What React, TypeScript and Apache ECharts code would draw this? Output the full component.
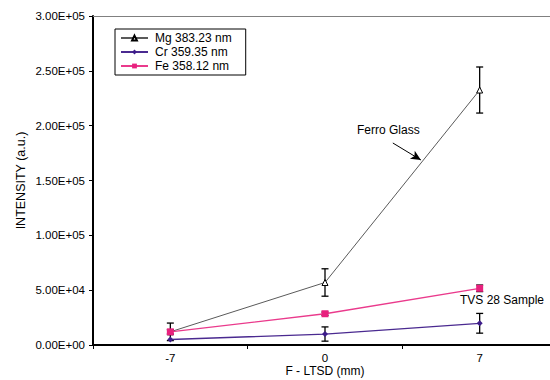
import React, { useEffect, useRef } from "react";
import * as echarts from "echarts";

const categories = ["-7", "0", "7"];
const xValues = [-7, 0, 7];
const mgValues = [12000, 57000, 232500];
const mgErrors = [8000, 12500, 21000];
const crValues = [5000, 10000, 19800];
const crErrors = [0, 6500, 9000];
const feValues = [12000, 28500, 51700];
const feErrors = [2000, 1500, 3000];
const seriesNames = ["Mg 383.23 nm", "Cr 359.35 nm", "Fe 358.12 nm"];
const arrowFrom = [3.07, 184200];
const arrowTo = [4.34, 168700];

const fmt = (v: number) => {
  const s = v.toExponential(2).toUpperCase();
  return s.replace(/E([+-])(\d)$/, "E$10$2");
};

const pts = (vals: number[]) => vals.map((v, i) => [xValues[i], v]);
const errs = (vals: number[], e: number[]) =>
  vals.map((v, i) => [xValues[i], v - e[i], v + e[i]]).filter((_, i) => e[i] > 0);

const font = "Liberation Sans, Arial, sans-serif";

export default function App() {
  const ref = useRef<HTMLDivElement>(null);
  useEffect(() => {
    document.body.style.margin = "0";
    const chart = echarts.init(ref.current!, null, { renderer: "svg" });
    const errorSeries = (name: string, data: number[][]) => ({
      type: "custom",
      name: name + "_err",
      xAxisIndex: 1,
      z: 1,
      silent: true,
      clip: false,
      data,
      renderItem: (params: any, api: any) => {
        const x = api.value(0);
        const lo = api.coord([x, api.value(1)]);
        const hi = api.coord([x, api.value(2)]);
        const w = 3.5;
        const st = { stroke: "#000", lineWidth: 1.3 };
        return {
          type: "group",
          children: [
            { type: "line", shape: { x1: lo[0], y1: lo[1], x2: hi[0], y2: hi[1] }, style: st },
            { type: "line", shape: { x1: lo[0] - w, y1: lo[1], x2: lo[0] + w, y2: lo[1] }, style: st },
            { type: "line", shape: { x1: hi[0] - w, y1: hi[1], x2: hi[0] + w, y2: hi[1] }, style: st },
          ],
        };
      },
    });
    chart.setOption({
      animation: false,
      backgroundColor: "#fff",
      textStyle: { fontFamily: font },
      grid: { left: 93, top: 16, right: -7, bottom: 35, outerBoundsMode: "none", containLabel: false },
      legend: {
        orient: "vertical",
        left: 115,
        top: 29,
        data: seriesNames,
        backgroundColor: "#fff",
        borderColor: "#000",
        borderWidth: 1,
        borderRadius: 0,
        padding: [3, 14, 3, 5],
        itemWidth: 27,
        itemHeight: 6,
        itemGap: 2,
        textStyle: { fontSize: 12, color: "#000", fontFamily: font, padding: [0, 0, 0, 2] },
      },
      xAxis: [
        {
          type: "category",
          data: categories,
          boundaryGap: true,
          name: "F - LTSD (mm)",
          nameLocation: "middle",
          nameGap: 20,
          nameMoveOverlap: false,
          nameTextStyle: { fontSize: 12, color: "#000", fontFamily: font },
          axisLine: { lineStyle: { color: "#000", width: 2 } },
          axisTick: { show: true, length: 4, lineStyle: { color: "#000" } },
          axisLabel: { fontSize: 11.5, color: "#000", margin: 7, fontFamily: font },
          splitLine: { show: false },
        },
        {
          type: "value",
          min: -10.5,
          max: 10.5,
          position: "top",
          axisLine: { show: true, onZero: false, lineStyle: { color: "#808080", width: 1 } },
          axisTick: { show: false },
          axisLabel: { show: false },
          splitLine: { show: false },
        },
      ],
      yAxis: {
        type: "value",
        min: 0,
        max: 300000,
        interval: 50000,
        name: "INTENSITY (a.u.)",
        nameLocation: "middle",
        nameGap: 66,
        nameMoveOverlap: false,
        nameTextStyle: { fontSize: 12.5, color: "#000", fontFamily: font },
        axisLine: { show: true, onZero: false, lineStyle: { color: "#000", width: 2 } },
        axisTick: { show: true, length: 4, lineStyle: { color: "#000" } },
        axisLabel: { formatter: fmt, fontSize: 11.5, color: "#000", margin: 8, fontFamily: font },
        splitLine: { show: false },
      },
      series: [
        errorSeries("Mg", errs(mgValues, mgErrors)),
        errorSeries("Cr", errs(crValues, crErrors)),
        errorSeries("Fe", errs(feValues, feErrors)),
        {
          name: seriesNames[0],
          type: "line",
          xAxisIndex: 1,
          z: 3,
          data: pts(mgValues),
          symbol: "triangle",
          symbolSize: 6,
          showAllSymbol: true,
          lineStyle: { color: "#5a5a5a", width: 1 },
          itemStyle: { color: "#fff", borderColor: "#000", borderWidth: 1 },
          color: "#5a5a5a",
          markLine: {
            silent: true,
            animation: false,
            label: { show: false },
            lineStyle: { color: "#000", width: 1, type: "solid" },
            symbolSize: [7, 10],
            data: [
              [
                { coord: arrowFrom, symbol: "none" },
                { coord: arrowTo, symbol: "arrow" },
              ],
            ],
          },
        },
        {
          name: seriesNames[1],
          type: "line",
          xAxisIndex: 1,
          z: 3,
          data: pts(crValues),
          symbol: "diamond",
          symbolSize: 6,
          lineStyle: { color: "#4a2a90", width: 1.3 },
          itemStyle: { color: "#3d1c8a" },
          color: "#3d1c8a",
        },
        {
          name: seriesNames[2],
          type: "line",
          xAxisIndex: 1,
          z: 3,
          data: pts(feValues),
          symbol: "rect",
          symbolSize: 7,
          lineStyle: { color: "#ea3a8c", width: 1.3 },
          itemStyle: { color: "#e8217e" },
          color: "#e8217e",
        },
      ],
      graphic: [
        {
          type: "text",
          left: 357,
          top: 124,
          style: { text: "Ferro Glass", font: "12px " + font, fill: "#000" },
        },
        {
          type: "text",
          left: 460,
          top: 294,
          style: { text: "TVS 28 Sample", font: "12px " + font, fill: "#000" },
        },
      ],
    });
    return () => chart.dispose();
  }, []);
  return <div ref={ref} style={{ width: 550, height: 380 }} />;
}
